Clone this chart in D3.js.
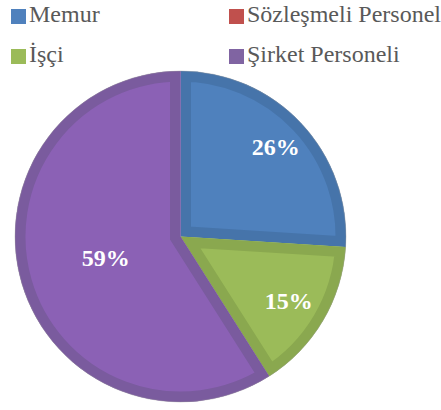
<!DOCTYPE html>
<html><head><meta charset="utf-8">
<script src="https://cdn.jsdelivr.net/npm/d3@7"></script>
</head><body style="margin:0">
<script>
const categories = ["Memur", "Sözleşmeli Personel", "İşçi", "Şirket Personeli"];
const values = [26, 0, 15, 59];
const labels = ["26%", "", "15%", "59%"];
const fillColors = ["#4F81BD", "#C0504D", "#9BBB59", "#8B61B5"];
const bandColors = ["#4674AA", "#A94643", "#8AA84F", "#7A5B9E"];
const legendColors = ["#4F81BD", "#C0504D", "#9BBB59", "#8064A2"];

const W = 441, H = 410;
const wrap = d3.select("body").append("div")
  .style("position", "relative").style("width", W + "px").style("height", H + "px");
const svg = wrap.append("svg").attr("width", W).attr("height", H)
  .style("position", "absolute").style("left", 0).style("top", 0);
const cx = 180.5, cy = 236.5, R = 165.5;
const labelRadiusFrac = [0.79, 0.7, 0.76, 0.47];

const pie = d3.pie().sort(null).value(d => d.v);
const data = pie(categories.map((c, i) => ({c, v: values[i], i})));
const arc = d3.arc().innerRadius(0).outerRadius(R);

const defs = svg.append("defs");
const g = svg.append("g").attr("transform", `translate(${cx},${cy})`);

data.forEach((d, k) => {
  if (d.data.v <= 0) return;
  const id = "clip" + k;
  defs.append("clipPath").attr("id", id).append("path").attr("d", arc(d));
  g.append("path").attr("d", arc(d)).attr("fill", fillColors[d.data.i]);
  g.append("path").attr("d", arc(d)).attr("fill", "none")
    .attr("stroke", bandColors[d.data.i]).attr("stroke-width", 21)
    .attr("stroke-linejoin", "miter")
    .attr("clip-path", `url(#${id})`);
});
g.append("circle").attr("r", R).attr("fill", "none").attr("stroke", "#9a9a9a").attr("stroke-opacity", 0.4).attr("stroke-width", 1);

// percentage labels as HTML text
data.forEach(d => {
  if (d.data.v <= 0) return;
  const a = (d.startAngle + d.endAngle) / 2;
  const r = R * labelRadiusFrac[d.data.i];
  wrap.append("div")
    .style("position", "absolute")
    .style("left", (cx + Math.sin(a) * r) + "px")
    .style("top", (cy - Math.cos(a) * r) + "px")
    .style("transform", "translate(-50%,-50%)")
    .style("font-family", '"Liberation Serif"')
    .style("font-weight", "bold").style("font-size", "24px").style("line-height", "24px")
    .style("color", "#fff").style("white-space", "nowrap")
    .text(labels[d.data.i]);
});

// legend
const legPos = [[11, 9], [229, 9], [11, 49], [229, 49]];
categories.forEach((c, i) => {
  const [x, y] = legPos[i];
  svg.append("rect").attr("x", x).attr("y", y).attr("width", 15).attr("height", 15).attr("fill", legendColors[i]);
  wrap.append("div")
    .style("position", "absolute")
    .style("left", (x + 18) + "px").style("top", (y - 7) + "px")
    .style("font-family", '"Liberation Serif"')
    .style("font-size", "24px").style("line-height", "24px")
    .style("color", "#595959").style("white-space", "nowrap")
    .text(c);
});
</script>
</body></html>
